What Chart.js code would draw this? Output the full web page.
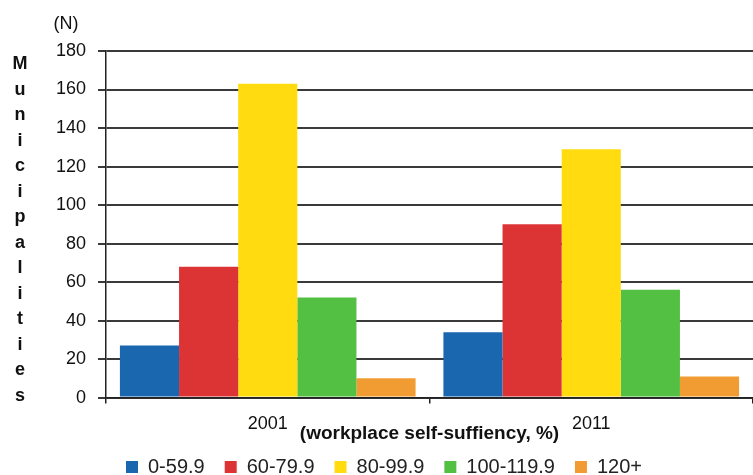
<!DOCTYPE html>
<html>
<head>
<meta charset="utf-8">
<script src="https://cdn.jsdelivr.net/npm/chart.js@4/dist/chart.umd.min.js"></script>
<style>
  html, body { margin: 0; padding: 0; background: #fff; }
  #wrap { width: 753px; height: 475px; }
</style>
</head>
<body>
<div id="wrap"><canvas id="selfSufficiencyChart"></canvas></div>
<script>
// Data
const years = ['2001', '2011'];
const groups = ['0-59.9', '60-79.9', '80-99.9', '100-119.9', '120+'];
const group0 = [27, 34];
const group1 = [68, 90];
const group2 = [163, 129];
const group3 = [52, 56];
const group4 = [10, 11];
const groupColors = ['#1a67b0', '#dc3434', '#ffdb0f', '#53bf43', '#f19c32'];
const yTicks = [0, 20, 40, 60, 80, 100, 120, 140, 160, 180];
const yTitle = 'Municipalities';
const yUnit = '(N)';
const xTitle = '(workplace self-suffiency, %)';

const allValues = [group0, group1, group2, group3, group4];

// vertical stacked y-axis title and the (N) unit above the ticks
const sideText = {
  id: 'sideText',
  afterDraw(chart) {
    const ctx = chart.ctx;
    ctx.save();
    ctx.fillStyle = '#111';
    ctx.textAlign = 'center';
    ctx.textBaseline = 'alphabetic';
    ctx.font = 'bold 18px "Liberation Sans", Arial, sans-serif';
    yTitle.split('').forEach((ch, i) => {
      ctx.fillText(ch, 20, 69 + i * 25.5);
    });
    ctx.font = '18px "Liberation Sans", Arial, sans-serif';
    ctx.textBaseline = 'middle';
    ctx.fillText(yUnit, 66, 24);
    ctx.restore();
  }
};

document.addEventListener('DOMContentLoaded', () => {
  const canvas = document.getElementById('selfSufficiencyChart');
  new Chart(canvas, {
    type: 'bar',
    data: {
      labels: years,
      datasets: groups.map((g, i) => ({
        label: g,
        data: allValues[i],
        backgroundColor: groupColors[i],
        borderWidth: 0,
        categoryPercentage: 0.914,
        barPercentage: 1.0,
      })),
    },
    options: {
      responsive: true,
      maintainAspectRatio: false,
      animation: false,
      layout: {
        padding: { left: 15, right: 0, top: 51, bottom: 0 },
      },
      plugins: {
        tooltip: { enabled: false },
        legend: {
          position: 'bottom',
          maxHeight: 38,
          labels: {
            boxWidth: 12,
            boxHeight: 12,
            padding: 20,
            color: '#222',
            font: { family: '"Liberation Sans", Arial, sans-serif', size: 20 },
          },
        },
      },
      scales: {
        x: {
          grid: {
            offset: true,
            drawOnChartArea: false,
            drawTicks: true,
            tickLength: 6,
            color: '#222',
            lineWidth: 1.5,
          },
          border: { color: '#222', width: 1.5 },
          ticks: {
            color: '#111',
            padding: 10,
            font: { family: '"Liberation Sans", Arial, sans-serif', size: 18 },
          },
          title: {
            display: true,
            text: xTitle,
            color: '#111',
            padding: { top: -23, bottom: -8 },
            font: { family: '"Liberation Sans", Arial, sans-serif', size: 19, weight: 'bold' },
          },
        },
        y: {
          min: 0,
          max: 180,
          afterFit(scale) { scale.width = 91; },
          afterBuildTicks(scale) { scale.ticks = yTicks.map(v => ({ value: v })); },
          grid: {
            color: '#3a3a3a',
            lineWidth: 2,
            tickLength: 8,
          },
          border: { color: '#222', width: 1.5 },
          ticks: {
            color: '#111',
            padding: 12,
            font: { family: '"Liberation Sans", Arial, sans-serif', size: 18 },
          },
        },
      },
    },
    plugins: [sideText],
  });
});
</script>
</body>
</html>
